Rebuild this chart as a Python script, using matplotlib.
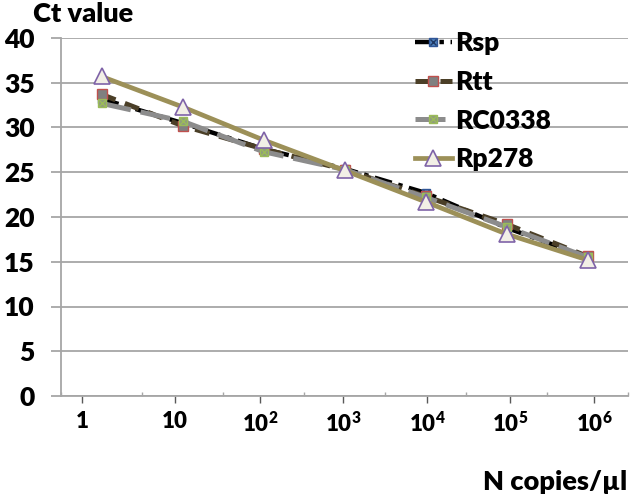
import matplotlib.pyplot as plt
import numpy as np

plt.rcParams['font.family'] = ['Lato', 'DejaVu Sans']
plt.rcParams['font.weight'] = 'heavy'
plt.rcParams['mathtext.fontset'] = 'custom'
plt.rcParams['mathtext.bf'] = 'Lato:heavy'
plt.rcParams['mathtext.rm'] = 'Lato:heavy'

# data
concentrations = ['1', '10', r'$\mathbf{10^{2}}$', r'$\mathbf{10^{3}}$', r'$\mathbf{10^{4}}$',
                  r'$\mathbf{10^{5}}$', r'$\mathbf{10^{6}}$']
rsp = [33.2, 30.5, 27.6, 25.4, 22.7, 18.8, 15.5]
rtt = [33.7, 30.2, 27.6, 25.3, 22.3, 19.2, 15.6]
rc0338 = [32.7, 30.7, 27.3, 25.3, 22.2, 18.9, 15.5]
rp278 = [35.7, 32.3, 28.6, 25.2, 21.7, 18.1, 15.2]

# tick labels were pasted a bit off the category centres
label_shift = [-0.24, -0.09, -0.04, -0.02, 0.02, 0.04, 0.08]

x = np.arange(len(concentrations))

fig = plt.figure(figsize=(6.31, 4.97), dpi=100)
ax = fig.add_axes([61 / 631, 1 - 396 / 497, 567 / 631, 358 / 497])

l1, = ax.plot(x, rsp, color='black', lw=3.2, ls=(0, (4, 1.5, 1, 1.5)),
              marker='s', ms=6, mfc='#4f81bd', mec='#2f5597', zorder=3)
x1, = ax.plot(x, rsp, ls='none', marker='x', ms=5, mec='#1f3864', mew=1, zorder=3)
l2, = ax.plot(x, rtt, color='#4b3f27', lw=3.6, ls=(0, (3, 2)),
              marker='s', ms=7, mfc='#808080', mec='#c0504d', mew=1, zorder=4)
l3, = ax.plot(x, rc0338, color='#8c8c8c', lw=3.6, ls=(0, (6, 2)),
              marker='s', ms=6, mfc='#8f9a80', mec='#9bbb59', zorder=5)
x3, = ax.plot(x, rc0338, ls='none', marker='x', ms=6, mec='#9bbb59', mew=1, zorder=5)
l4, = ax.plot(x, rp278, color='#9c9058', lw=3.4, ls='-',
              marker='^', ms=12, mfc='#f2efe6', mec='#7f63a8', mew=1.2, zorder=6)

ax.set_xlim(-0.5, len(x) - 0.5)
ax.set_ylim(0, 40)
ax.set_yticks(range(0, 41, 5))
ax.grid(axis='y', color='#a6a6a6', lw=1.3)
ax.set_axisbelow(True)

ax.set_xticks(x + np.array(label_shift))
ax.set_xticklabels(concentrations, fontsize=16, fontweight='heavy')
ax.set_xticks(np.arange(-0.5, len(x)), minor=True)
ax.tick_params(axis='x', which='major', direction='out', length=5, width=1,
               color='#595959', pad=6)
ax.tick_params(axis='x', which='minor', direction='in', length=3, width=1,
               color='#a6a6a6')
ax.tick_params(axis='y', direction='out', length=7, width=1.3, color='#a6a6a6',
               labelsize=19, pad=12)
for lab in ax.get_yticklabels():
    lab.set_fontweight('heavy')

for s in ['top', 'right']:
    ax.spines[s].set_visible(False)
ax.spines['left'].set_color('#a6a6a6')
ax.spines['bottom'].set_color('#a6a6a6')
ax.spines['left'].set_linewidth(1.3)
ax.spines['bottom'].set_linewidth(1.3)

fig.text(33 / 631, 1 - 14 / 497, 'Ct value', fontsize=19.5, fontweight='heavy',
         ha='left', va='center')
fig.text(627 / 631, 1 - 482 / 497, 'N copies/µl', fontsize=19.5, fontweight='heavy',
         ha='right', va='center')

fig.legend([(l1, x1), l2, (l3, x3), l4], ['Rsp', 'Rtt', 'RC0338', 'Rp278'],
           loc='upper left', bbox_to_anchor=(415 / 631, 1 - 31 / 497),
           frameon=False, prop={'size': 19, 'weight': 'heavy'},
           handlelength=1.4, handletextpad=0.12, labelspacing=0.56, borderpad=0,
           borderaxespad=0)

fig.savefig('out.png', dpi=100)
